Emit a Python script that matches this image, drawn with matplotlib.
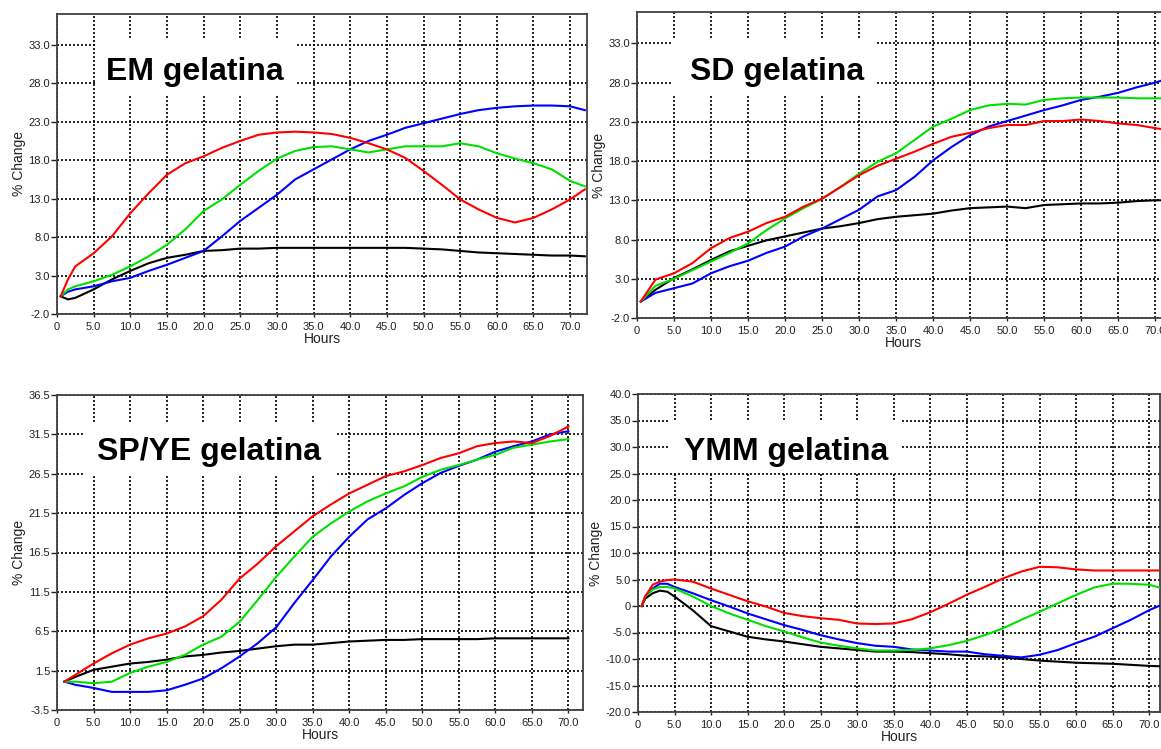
import matplotlib
matplotlib.use("Agg")
import matplotlib.pyplot as plt
from matplotlib.patches import Rectangle
from matplotlib.ticker import FuncFormatter

plt.rcParams['font.family'] = ['Liberation Sans', 'DejaVu Sans']

# ---- EM gelatina ----
em_hours = [0.5, 1.5, 2.5, 5, 7.5, 10, 12.5, 15, 17.5, 20, 22.5, 25, 27.5, 30, 32.5, 35,
            37.5, 40, 42.5, 45, 47.5, 50, 52.5, 55, 57.5, 60, 62.5, 65, 67.5, 70, 72]
em_red = [0.3, 2.5, 4.2, 5.9, 8.1, 11.1, 13.7, 16.1, 17.6, 18.5, 19.6, 20.5, 21.3, 21.6, 21.7, 21.6,
          21.4, 20.9, 20.2, 19.4, 18.3, 16.6, 14.8, 12.9, 11.6, 10.5, 9.9, 10.5, 11.6, 12.9, 14.2]
em_green = [0.3, 1.2, 1.6, 2.25, 3.1, 4.2, 5.5, 7.0, 9.0, 11.4, 12.9, 14.8, 16.6, 18.2, 19.2, 19.7,
            19.8, 19.4, 19.0, 19.4, 19.8, 19.8, 19.8, 20.2, 19.8, 18.9, 18.2, 17.6, 16.8, 15.3, 14.6]
em_blue = [0.3, 0.9, 1.2, 1.6, 2.25, 2.7, 3.6, 4.4, 5.3, 6.2, 8.1, 10.1, 11.8, 13.5, 15.5, 16.8,
           18.1, 19.4, 20.5, 21.3, 22.2, 22.8, 23.4, 24.0, 24.5, 24.8, 25.0, 25.1, 25.1, 25.0, 24.5]
em_black = [0.3, -0.1, 0.1, 1.2, 2.5, 3.6, 4.6, 5.3, 5.7, 6.2, 6.3, 6.5, 6.5, 6.6, 6.6, 6.6,
            6.6, 6.6, 6.6, 6.6, 6.6, 6.5, 6.4, 6.2, 6.0, 5.9, 5.8, 5.7, 5.6, 5.6, 5.5]

# ---- SD gelatina ----
sd_hours = [0.5, 2.5, 5, 7.5, 10, 12.5, 15, 17.5, 20, 22.5, 25, 27.5, 30, 32.5, 35,
            37.5, 40, 42.5, 45, 47.5, 50, 52.5, 55, 57.5, 60, 62.5, 65, 67.5, 70, 72]
sd_red = [0.1, 2.9, 3.7, 5.0, 6.9, 8.2, 9.0, 10.1, 10.9, 12.2, 13.2, 14.7, 16.2, 17.4, 18.3,
          19.2, 20.2, 21.1, 21.6, 22.2, 22.6, 22.6, 23.1, 23.1, 23.3, 23.1, 22.8, 22.6, 22.2, 21.9]
sd_green = [0.1, 2.1, 3.0, 4.1, 5.2, 6.3, 7.5, 9.2, 10.7, 12.0, 13.2, 14.7, 16.4, 17.9, 19.0,
            20.7, 22.4, 23.4, 24.5, 25.1, 25.3, 25.2, 25.8, 26.0, 26.1, 26.1, 26.1, 26.0, 26.0, 26.0]
sd_blue = [0.1, 1.2, 1.8, 2.4, 3.7, 4.6, 5.3, 6.3, 7.1, 8.4, 9.4, 10.6, 11.8, 13.5, 14.3,
           16.0, 18.1, 19.8, 21.3, 22.4, 23.1, 23.8, 24.5, 25.1, 25.8, 26.2, 26.7, 27.4, 28.0, 28.6]
sd_black = [0.1, 1.6, 3.1, 4.2, 5.4, 6.5, 7.2, 7.9, 8.4, 8.9, 9.4, 9.7, 10.1, 10.6, 10.9,
            11.1, 11.3, 11.7, 12.0, 12.1, 12.2, 12.0, 12.4, 12.5, 12.6, 12.6, 12.7, 12.9, 13.0, 13.0]

# ---- SP/YE gelatina ----
sp_hours = [1, 2.5, 5, 7.5, 10, 12.5, 15, 17.5, 20, 22.5, 25, 27.5, 30, 32.5, 35,
            37.5, 40, 42.5, 45, 47.5, 50, 52.5, 55, 57.5, 60, 62.5, 65, 67.5, 70]
sp_red = [0.1, 0.95, 2.4, 3.7, 4.8, 5.6, 6.2, 7.1, 8.4, 10.5, 13.2, 15.1, 17.3, 19.2, 21.1,
          22.6, 24.0, 25.1, 26.2, 26.8, 27.6, 28.5, 29.1, 30.0, 30.4, 30.6, 30.4, 31.3, 32.5]
sp_green = [0.1, 0.1, -0.1, 0.1, 1.2, 2.0, 2.6, 3.5, 4.8, 5.8, 7.7, 10.5, 13.4, 16.0, 18.5,
            20.2, 21.7, 23.0, 24.0, 24.9, 26.1, 27.0, 27.6, 28.3, 28.9, 29.8, 30.2, 30.6, 30.9]
sp_blue = [0.1, -0.3, -0.7, -1.2, -1.2, -1.2, -1.0, -0.3, 0.5, 1.8, 3.3, 5.0, 7.0, 10.1, 13.0,
           16.0, 18.5, 20.7, 22.1, 23.8, 25.3, 26.6, 27.5, 28.3, 29.3, 30.0, 30.6, 31.5, 31.9]
sp_black = [0.1, 0.7, 1.6, 2.0, 2.4, 2.6, 2.9, 3.3, 3.5, 3.8, 4.0, 4.3, 4.6, 4.8, 4.8,
            5.0, 5.2, 5.3, 5.4, 5.4, 5.5, 5.5, 5.5, 5.5, 5.6, 5.6, 5.6, 5.6, 5.6]

# ---- YMM gelatina ----
ymm_hours = [0.5, 1, 2, 3, 4, 5, 7.5, 10, 12.5, 15, 17.5, 20, 22.5, 25, 27.5, 30, 32.5, 35,
             37.5, 40, 42.5, 45, 47.5, 50, 52.5, 55, 57.5, 60, 62.5, 65, 67.5, 70, 72]
ymm_red = [0, 1.8, 4.0, 4.6, 4.9, 5.0, 4.6, 3.3, 2.1, 0.9, -0.1, -1.3, -1.9, -2.3, -2.6, -3.3, -3.4, -3.3,
           -2.5, -1.2, 0.4, 2.1, 3.6, 5.2, 6.5, 7.4, 7.3, 6.9, 6.7, 6.7, 6.7, 6.7, 6.7]
ymm_green = [0, 1.8, 3.1, 3.6, 3.6, 3.3, 1.8, 0, -1.4, -2.6, -3.8, -4.8, -5.9, -6.9, -7.5, -8.0, -8.4, -8.4,
             -8.3, -8.0, -7.4, -6.6, -5.5, -4.2, -2.6, -1.1, 0.5, 2.1, 3.5, 4.2, 4.2, 4.0, 3.3]
ymm_blue = [0, 1.8, 3.3, 4.2, 4.2, 3.6, 2.4, 1.1, -0.1, -1.4, -2.5, -3.6, -4.5, -5.5, -6.3, -7.0, -7.5, -7.7,
            -8.2, -8.4, -8.6, -8.6, -9.1, -9.4, -9.7, -9.2, -8.3, -7.0, -5.8, -4.2, -2.6, -0.8, 0.4]
ymm_black = [0, 1.4, 2.4, 2.9, 2.7, 1.8, -0.8, -3.8, -4.8, -5.8, -6.3, -6.7, -7.2, -7.7, -8.0, -8.3, -8.6, -8.6,
             -8.7, -8.9, -9.1, -9.4, -9.5, -9.7, -10.0, -10.3, -10.5, -10.7, -10.8, -10.9, -11.1, -11.3, -11.4]

x_ticks = [0, 5, 10, 15, 20, 25, 30, 35, 40, 45, 50, 55, 60, 65, 70]
em_yticks = [-2, 3, 8, 13, 18, 23, 28, 33]
sp_yticks = [-3.5, 1.5, 6.5, 11.5, 16.5, 21.5, 26.5, 31.5, 36.5]
ymm_yticks = [-20, -15, -10, -5, 0, 5, 10, 15, 20, 25, 30, 35, 40]

W, H = 1161, 749
fig = plt.figure(figsize=(W / 100, H / 100), dpi=100)


def add_panel(left, top, right, bottom):
    return fig.add_axes([left / W, (H - bottom) / H, (right - left) / W, (bottom - top) / H])


def fmt(v, pos):
    return "0" if abs(v) < 1e-9 else "%.1f" % v


def style(ax, hours, series, yticks, ylim, xmax, label, box, text_xy):
    for vals, col in zip(series, ['black', 'blue', '#00e000', 'red']):
        ax.plot(hours, vals, color=col, lw=1.5, zorder=3)
    ax.set_xlim(0, xmax)
    ax.set_ylim(*ylim)
    ax.set_xticks(x_ticks)
    ax.set_yticks(yticks)
    ax.xaxis.set_major_formatter(FuncFormatter(fmt))
    ax.yaxis.set_major_formatter(FuncFormatter(fmt))
    ax.grid(True, color='black', linestyle=(0, (1.2, 1.2)), lw=1.2)
    ax.set_axisbelow(True)
    ax.tick_params(axis='y', length=4, width=1, pad=1, labelsize=8, colors='#222222')
    ax.tick_params(axis='x', length=2, width=1, pad=4, labelsize=8, colors='#222222')
    for s in ax.spines.values():
        s.set_color('#404040')
        s.set_linewidth(1.3)
    ax.set_xlabel('Hours', fontsize=10, labelpad=0, color='#222222')
    ax.set_ylabel('% Change', fontsize=10, labelpad=2, color='#222222')
    x0, y0, x1, y1 = box
    ax.add_patch(Rectangle((x0, y0), x1 - x0, y1 - y0, transform=ax.transAxes,
                           facecolor='white', edgecolor='none', zorder=2.5))
    ax.text(text_xy[0], text_xy[1], label, transform=ax.transAxes, ha='center', va='baseline',
            fontsize=23, fontweight='bold', color='black', zorder=4)


ax1 = add_panel(57, 14, 587, 314)
style(ax1, em_hours, [em_black, em_blue, em_green, em_red], em_yticks, (-2, 37), 72.3,
      'EM gelatina', (0.074, 0.73, 0.453, 0.913), (0.26, 0.78))

ax2 = add_panel(637, 12, 1170, 318)
style(ax2, sd_hours, [sd_black, sd_blue, sd_green, sd_red], em_yticks, (-2, 37), 72,
      'SD gelatina', (0.0675, 0.729, 0.45, 0.915), (0.263, 0.778))

ax3 = add_panel(57, 395, 583, 710)
style(ax3, sp_hours, [sp_black, sp_blue, sp_green, sp_red], sp_yticks, (-3.5, 36.5), 72,
      'SP/YE gelatina', (0.053, 0.746, 0.532, 0.911), (0.289, 0.794))

ax4 = add_panel(638, 394, 1160, 712)
style(ax4, ymm_hours, [ymm_black, ymm_blue, ymm_green, ymm_red], ymm_yticks, (-20, 40), 71.5,
      'YMM gelatina', (0.061, 0.752, 0.502, 0.918), (0.284, 0.792))

fig.savefig('out.png', dpi=100)
